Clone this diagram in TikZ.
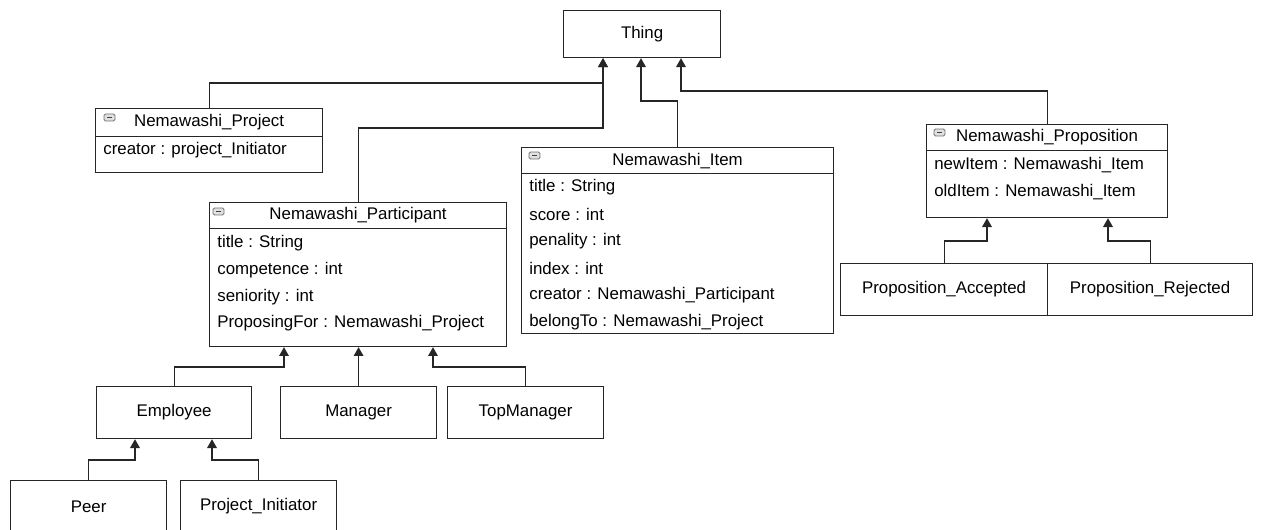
\documentclass[tikz,border=0pt]{standalone}
\usepackage{fontspec}
\setmainfont{Liberation Sans}
\usetikzlibrary{arrows.meta}

\tikzset{
  box/.style={draw=black!85, line width=0.7pt, fill=white, inner sep=0pt,
    anchor=north west, font=\fontsize{9.6}{11}\selectfont},
  attr/.style={anchor=west, inner sep=0pt, font=\fontsize{9.6}{11}\selectfont},
  icon/.style={draw=black!55, fill=blue!6!black!12, line width=0.5pt, rounded corners=0.8pt},
  inh/.style={draw=black!85, line width=0.65pt, -{Triangle[width=5.5pt,length=5pt]}}
}

\begin{document}
\begin{tikzpicture}[x=0.02cm, y=-0.02cm]
\clip (0,0) rectangle (1261,530);

% root
\node[box, minimum width=3.14cm, minimum height=0.94cm] (thing) at (563,10) {Thing};

% Nemawashi_Project
\node[box, minimum width=4.54cm, minimum height=0.56cm] (projH) at (95,108) {Nemawashi\_Project};
\node[box, minimum width=4.54cm, minimum height=0.72cm] (projB) at (95,136) {};
\node[attr] (projA1) at (103,150) {creator : project\_Initiator};
\draw[icon] (104,114) rectangle (115,121);
\draw[black!75] (107,117.5) -- (112,117.5);

% Nemawashi_Participant
\node[box, minimum width=5.94cm, minimum height=0.52cm] (partH) at (209,202) {Nemawashi\_Participant};
\node[box, minimum width=5.94cm, minimum height=2.36cm] (partB) at (209,228) {};
\node[attr] (partA1) at (217,243) {title : String};
\node[attr] (partA2) at (217,270) {competence : int};
\node[attr] (partA3) at (217,297) {seniority : int};
\node[attr] (partA4) at (217,323) {ProposingFor : Nemawashi\_Project};
\draw[icon] (213,208) rectangle (224,215);
\draw[black!75] (216,211.5) -- (221,211.5);

% Nemawashi_Item
\node[box, minimum width=6.24cm, minimum height=0.52cm] (itemH) at (521,147) {Nemawashi\_Item};
\node[box, minimum width=6.24cm, minimum height=3.2cm] (itemB) at (521,173) {};
\node[attr] (itemA1) at (529,187) {title : String};
\node[attr] (itemA2) at (529,214) {score : int};
\node[attr] (itemA3) at (529,241) {penality : int};
\node[attr] (itemA4) at (529,268) {index : int};
\node[attr] (itemA5) at (529,295) {creator : Nemawashi\_Participant};
\node[attr] (itemA6) at (529,322) {belongTo : Nemawashi\_Project};
\draw[icon] (529,152) rectangle (540,159);
\draw[black!75] (532,155.5) -- (537,155.5);

% Nemawashi_Proposition
\node[box, minimum width=4.82cm, minimum height=0.52cm] (propH) at (926,124) {Nemawashi\_Proposition};
\node[box, minimum width=4.82cm, minimum height=1.34cm] (propB) at (926,150) {};
\node[attr] (propA1) at (934,165) {newItem : Nemawashi\_Item};
\node[attr] (propA2) at (934,192) {oldItem : Nemawashi\_Item};
\draw[icon] (934,129) rectangle (945,136);
\draw[black!75] (937,132.5) -- (942,132.5);

% subclasses
\node[box, minimum width=3.1cm, minimum height=1.04cm] (emp) at (96,386) {Employee};
\node[box, minimum width=3.12cm, minimum height=1.04cm] (mgr) at (280,386) {Manager};
\node[box, minimum width=3.12cm, minimum height=1.04cm] (top) at (447,386) {TopManager};
\node[box, minimum width=3.12cm, minimum height=1.04cm] (peer) at (10,480) {Peer};
\node[box, minimum width=3.12cm, minimum height=1.04cm] (init) at (180,480) {Project\_Initiator};
\node[box, minimum width=4.14cm, minimum height=1.04cm] (acc) at (840,263) {Proposition\_Accepted};
\node[box, minimum width=4.1cm, minimum height=1.04cm] (rej) at (1047,263) {Proposition\_Rejected};

% bends
\coordinate (j1) at (603,83);
\coordinate (j2) at (603,128);
\coordinate (j3) at (641,101);
\coordinate (j4) at (681,91);
\coordinate (j5) at (284,367);
\coordinate (j6) at (433,367);
\coordinate (j7) at (135,460);
\coordinate (j8) at (212,460);
\coordinate (j9) at (987,241);
\coordinate (j10) at (1108,241);

% generalisation
\draw[inh] (projH.north) |- (j1) -- (j1 |- thing.south);
\draw[inh] (partH.north) |- (j2) -- (j2 |- thing.south);
\draw[inh] (itemH.north) |- (j3) -- (j3 |- thing.south);
\draw[inh] (propH.north) |- (j4) -- (j4 |- thing.south);
\draw[inh] (emp.north) |- (j5) -- (j5 |- partB.south);
\draw[inh] (mgr.north) -- (mgr.north |- partB.south);
\draw[inh] (top.north) |- (j6) -- (j6 |- partB.south);
\draw[inh] (peer.north) |- (j7) -- (j7 |- emp.south);
\draw[inh] (init.north) |- (j8) -- (j8 |- emp.south);
\draw[inh] (acc.north) |- (j9) -- (j9 |- propB.south);
\draw[inh] (rej.north) |- (j10) -- (j10 |- propB.south);

\end{tikzpicture}
\end{document}
